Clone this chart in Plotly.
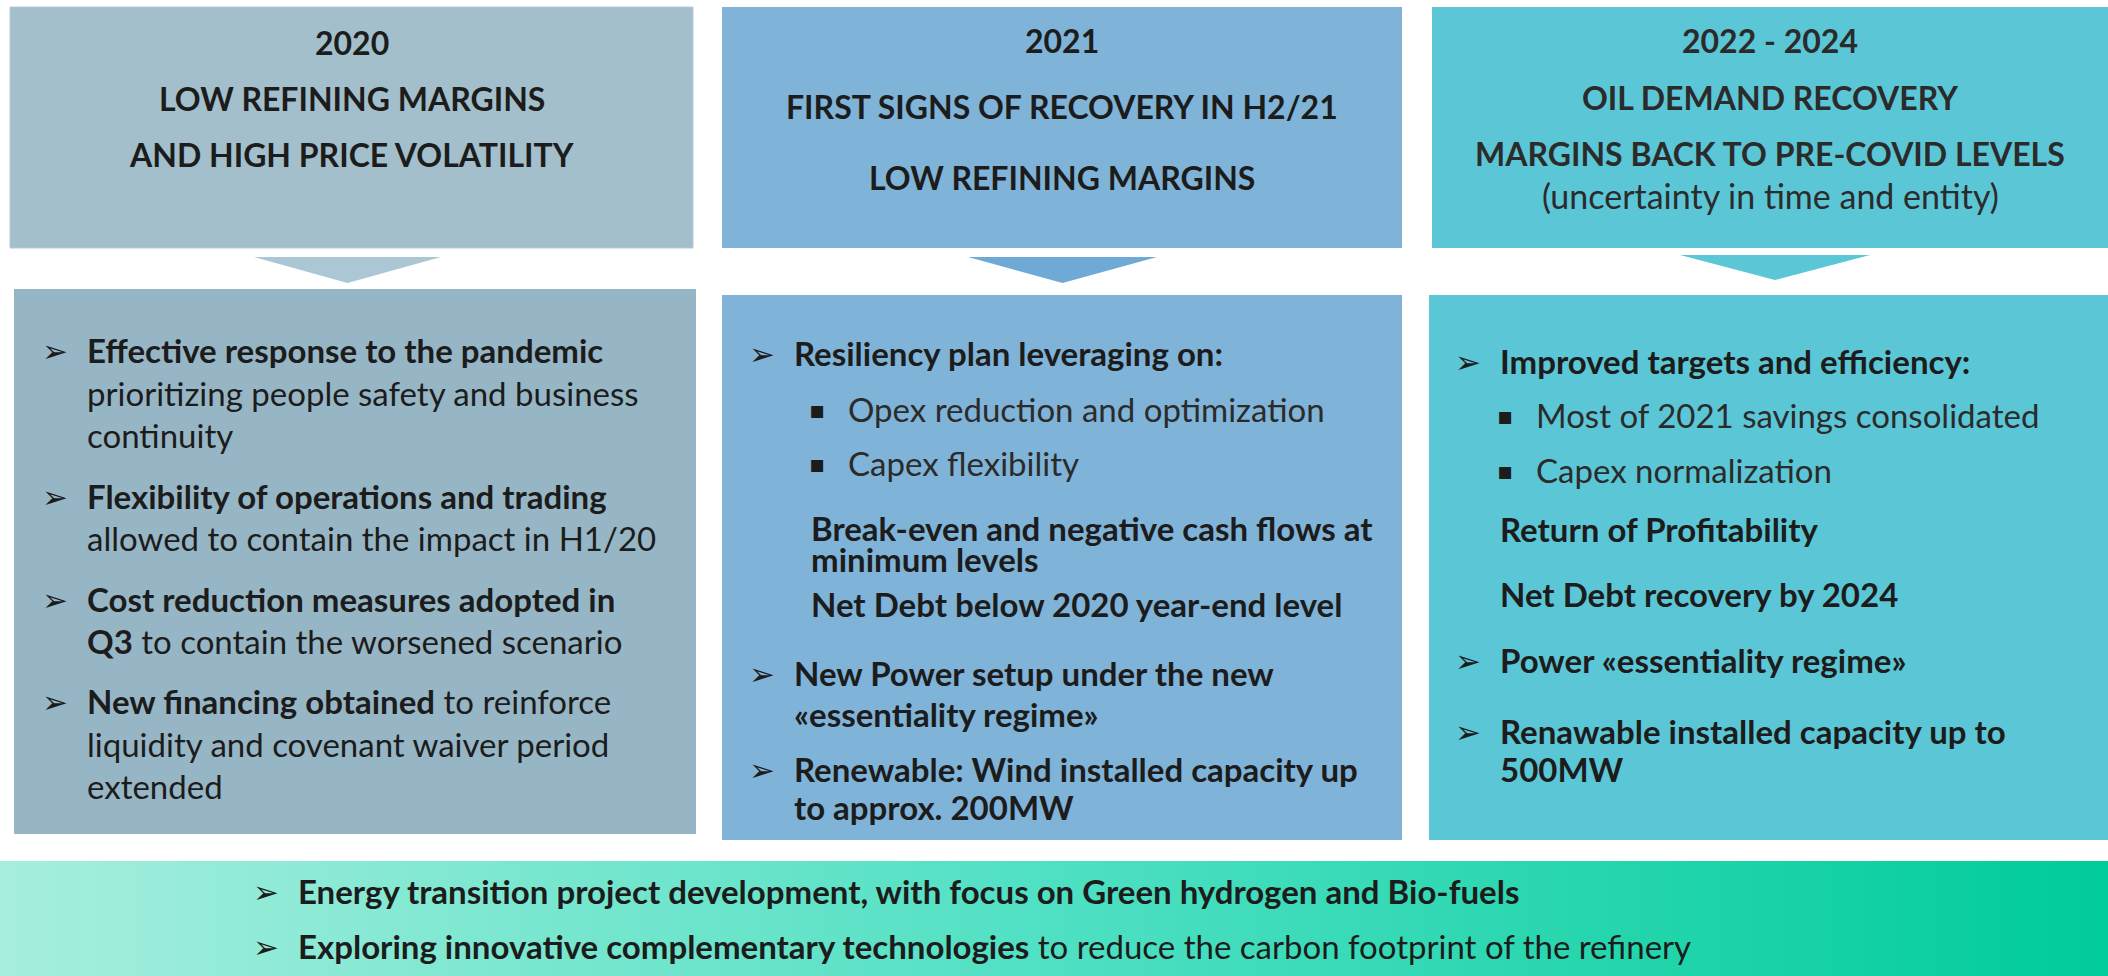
import plotly.graph_objects as go

W, H = 2108, 976

FONT = "Lato"
TEXT_DARK = "#1c1c1c"
TEXT_GREY = "#2b2b2b"

# three column colours: header, arrow, body
COLOURS_HEADER = ["#a2bfcb", "#7fb3d8", "#5bc6d6"]
COLOURS_ARROW = ["#abc7d3", "#6fa9d6", "#5bc6d6"]
COLOURS_BODY = ["#97b6c5", "#7fb3d8", "#5bc6d6"]

YEARS = ["2020", "2021", "2022 - 2024"]
HEADLINES = [
    ["LOW REFINING MARGINS", "AND HIGH PRICE VOLATILITY"],
    ["FIRST SIGNS OF RECOVERY IN H2/21", "LOW REFINING MARGINS"],
    ["OIL DEMAND RECOVERY", "MARGINS BACK TO PRE-COVID LEVELS"],
]
HEADLINE_NOTES = ["", "", "(uncertainty in time and entity)"]

# (marker, text) — marker: "arrow", "square", "sub" (indented) or ""
POINTS_2020 = [
    ("arrow", "<b>Effective response to the pandemic</b>"),
    ("", "prioritizing people safety and business"),
    ("", "continuity"),
    ("arrow", "<b>Flexibility of operations and trading</b>"),
    ("", "allowed to contain the impact in H1/20"),
    ("arrow", "<b>Cost reduction measures adopted in</b>"),
    ("", "<b>Q3</b> to contain the worsened scenario"),
    ("arrow", "<b>New financing obtained</b> to reinforce"),
    ("", "liquidity and covenant waiver period"),
    ("", "extended"),
]
POINTS_2021 = [
    ("arrow", "<b>Resiliency plan leveraging on:</b>"),
    ("square", "Opex reduction and optimization"),
    ("square", "Capex flexibility"),
    ("sub", "<b>Break-even and negative cash flows at</b>"),
    ("sub", "<b>minimum levels</b>"),
    ("sub", "<b>Net Debt below 2020 year-end level</b>"),
    ("arrow", "<b>New Power setup under the new</b>"),
    ("", "<b>«essentiality regime»</b>"),
    ("arrow", "<b>Renewable: Wind installed capacity up</b>"),
    ("", "<b>to approx. 200MW</b>"),
]
POINTS_2022 = [
    ("arrow", "<b>Improved targets and efficiency:</b>"),
    ("square", "Most of 2021 savings consolidated"),
    ("square", "Capex normalization"),
    ("", "<b>Return of Profitability</b>"),
    ("", "<b>Net Debt recovery by 2024</b>"),
    ("arrow", "<b>Power «essentiality regime»</b>"),
    ("arrow", "<b>Renawable installed capacity up to</b>"),
    ("", "<b>500MW</b>"),
]
POINTS = [POINTS_2020, POINTS_2021, POINTS_2022]

TRANSITION = [
    "<b>Energy transition project development, with focus on Green hydrogen and Bio-fuels</b>",
    "<b>Exploring innovative complementary technologies</b> to reduce the carbon footprint of the refinery",
]

# layout (pixels, top-left origin)
HEADER_BOXES = [(10, 7, 693, 248), (722, 7, 1402, 248), (1432, 7, 2108, 248)]
ARROWS = [(254, 257, 441, 283), (968, 257, 1157, 283), (1680, 255, 1870, 280)]
BODY_BOXES = [(14, 289, 696, 834), (722, 295, 1402, 840), (1429, 295, 2108, 840)]
HEADER_Y = [[42, 98, 154], [40, 106, 177], [40, 97, 153]]
NOTE_Y = 195
TEXT_X = [86, 793, 1499]
SQUARE_X = [0, 817, 1505]
SQUARE_TEXT_X = [0, 847, 1535]
SUB_X = 810
POINT_Y = [
    [350, 393, 435, 496, 538, 599, 641, 701, 744, 786],
    [353, 409, 463, 528, 559, 604, 673, 714, 769, 807],
    [361, 415, 470, 529, 594, 660, 731, 769],
]
BAND = (0, 861, 2108, 976)
BAND_Y = [891, 946]
BAND_X = 297
BULLET_GAP = 31


def rect(x0, y0, x1, y1, colour, line=None):
    return dict(
        type="rect", xref="x", yref="y", x0=x0, y0=y0, x1=x1, y1=y1,
        fillcolor=colour, layer="below",
        line=line or {"width": 0},
    )


def label(x, y, text, size, colour=TEXT_DARK, anchor="left", family=FONT):
    return dict(
        x=x, y=y, xref="x", yref="y", text=text, showarrow=False,
        xanchor=anchor, yanchor="middle", align=anchor, borderpad=0,
        font={"family": family, "size": size, "color": colour},
    )


def arrow_bullet(x, y):
    return label(x - BULLET_GAP, y + 1, "➢", 31, TEXT_DARK, "center",
                 "DejaVu Sans")


shapes = []
annotations = []

for i in range(3):
    hx0, hy0, hx1, hy1 = HEADER_BOXES[i]
    outline = {"color": "#b3cbd6", "width": 1} if i == 0 else None
    shapes.append(rect(hx0, hy0, hx1, hy1, COLOURS_HEADER[i], outline))

    ax0, ay0, ax1, ay1 = ARROWS[i]
    shapes.append(dict(
        type="path", xref="x", yref="y",
        path=f"M {ax0},{ay0} L {ax1},{ay0} L {(ax0 + ax1) / 2},{ay1} Z",
        fillcolor=COLOURS_ARROW[i], line={"width": 0}, layer="below",
    ))

    bx0, by0, bx1, by1 = BODY_BOXES[i]
    shapes.append(rect(bx0, by0, bx1, by1, COLOURS_BODY[i]))

    cx = (hx0 + hx1) / 2
    head_colour = TEXT_GREY if i == 2 else TEXT_DARK
    annotations.append(label(cx, HEADER_Y[i][0], f"<b>{YEARS[i]}</b>", 32,
                             head_colour, "center"))
    for text, y in zip(HEADLINES[i], HEADER_Y[i][1:]):
        annotations.append(label(cx, y, f"<b>{text}</b>", 32,
                                 head_colour, "center"))
    if HEADLINE_NOTES[i]:
        annotations.append(label(cx, NOTE_Y, HEADLINE_NOTES[i], 34,
                                 head_colour, "center"))

    tx = TEXT_X[i]
    for (marker, text), y in zip(POINTS[i], POINT_Y[i]):
        if marker == "arrow":
            annotations.append(arrow_bullet(tx, y))
            annotations.append(label(tx, y, text, 33))
        elif marker == "square":
            annotations.append(label(SQUARE_X[i], y + 1, "▪", 24, TEXT_DARK,
                                     "center", "DejaVu Sans"))
            annotations.append(label(SQUARE_TEXT_X[i], y, text, 33,
                                     TEXT_GREY))
        elif marker == "sub":
            annotations.append(label(SUB_X, y, text, 33))
        else:
            annotations.append(label(tx, y, text, 33))

for text, y in zip(TRANSITION, BAND_Y):
    annotations.append(arrow_bullet(BAND_X, y))
    annotations.append(label(BAND_X, y, text, 33))

x0, y0, x1, y1 = BAND
band = go.Scatter(
    x=[x0, x1, x1, x0, x0], y=[y0, y0, y1, y1, y0],
    mode="lines", fill="toself", line={"width": 0},
    fillgradient={
        "type": "horizontal",
        "colorscale": [[0, "#a6eedd"], [0.5, "#4fe0c3"], [1, "#00cc99"]],
    },
    hoverinfo="skip", showlegend=False,
)

fig = go.Figure([band])
fig.update_layout(
    width=W, height=H,
    margin={"l": 0, "r": 0, "t": 0, "b": 0},
    plot_bgcolor="white", paper_bgcolor="white",
    shapes=shapes, annotations=annotations,
    font={"family": FONT},
)
fig.update_xaxes(range=[0, W], visible=False, fixedrange=True)
fig.update_yaxes(range=[H, 0], visible=False, fixedrange=True)

fig.write_html(
    "out.html",
    config={"displayModeBar": False},
    post_script="document.body.style.margin = '0'; "
                "document.body.style.overflow = 'hidden';",
)
